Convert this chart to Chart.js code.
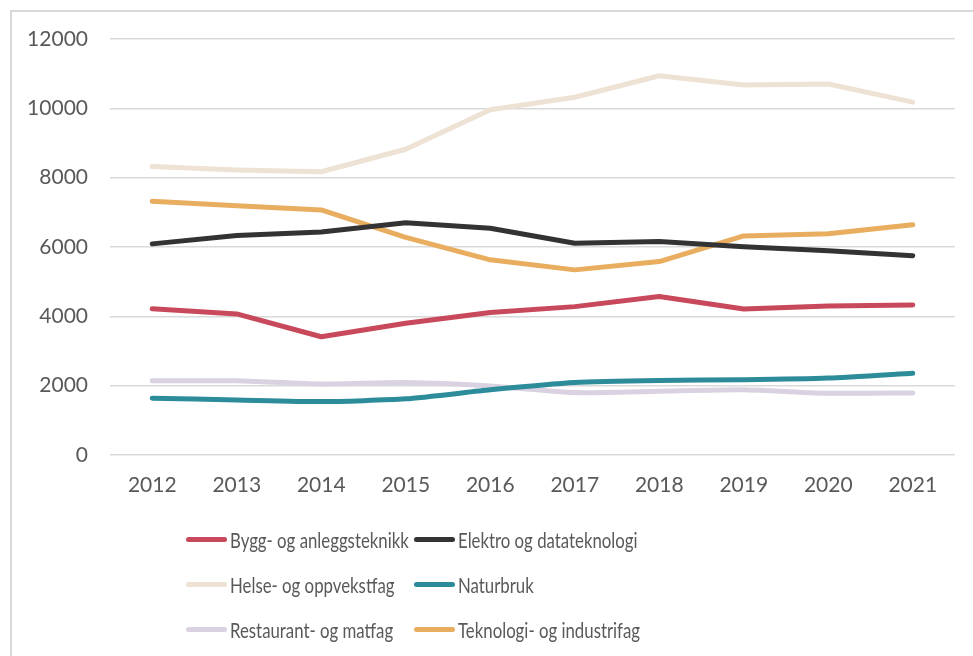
<!DOCTYPE html>
<html lang="no">
<head>
  <meta charset="UTF-8" />
  <title>Søkere per utdanningsprogram</title>
  <style>
    body {
      margin: 0;
      background: #fff;
      font-family: Lato, "Noto Sans", sans-serif;
    }

    .frame {
      position: absolute;
      left: 10px;
      top: 10px;
      width: 1000px;
      height: 700px;
      border-top: 2px solid #d9d9d9;
      border-left: 2px solid #d9d9d9;
      box-sizing: border-box;
    }

    .wrap {
      position: relative;
      width: 973px;
      height: 656px;
      overflow: hidden;
    }

    canvas {
      position: absolute;
      left: 0;
      top: 0;
    }

    #legend {
      position: absolute;
      left: 186px;
      top: 524px;
      display: grid;
      grid-template-columns: 228px 300px;
      row-gap: 15px;
    }

    .leg-item {
      display: flex;
      align-items: center;
      height: 30px;
      color: #595959;
      font-size: 21px;
      white-space: nowrap;
    }

    .leg-line {
      flex: none;
      width: 41px;
      height: 5px;
      border-radius: 3px;
      margin-right: 3px;
    }

    .leg-text {
      display: inline-block;
      transform: scaleX(0.8);
      transform-origin: left center;
    }
  </style>
</head>
<body>
  <div class="wrap">
    <div class="frame"></div>
    <canvas id="chart" width="973" height="656"></canvas>
    <div id="legend"></div>
  </div>

  <script src="https://cdn.jsdelivr.net/npm/chart.js"></script>
  <script>
    const years = ["2012", "2013", "2014", "2015", "2016", "2017", "2018", "2019", "2020", "2021"];

    const bygg       = [4220, 4070, 3410, 3800, 4110, 4280, 4570, 4210, 4300, 4330];
    const elektro    = [6090, 6330, 6430, 6700, 6540, 6110, 6160, 6010, 5890, 5750];
    const helse      = [8320, 8220, 8170, 8820, 9960, 10320, 10940, 10670, 10700, 10180];
    const naturbruk  = [1640, 1590, 1540, 1620, 1880, 2090, 2150, 2170, 2220, 2360];
    const restaurant = [2140, 2140, 2050, 2090, 1990, 1800, 1840, 1880, 1780, 1790];
    const teknologi  = [7320, 7190, 7070, 6280, 5630, 5340, 5580, 6320, 6380, 6640];

    const yTicks = [0, 2000, 4000, 6000, 8000, 10000, 12000];

    function serie(label, data, color, tension) {
      return {
        label,
        data,
        borderColor: color,
        backgroundColor: color,
        borderWidth: 5,
        borderCapStyle: 'round',
        borderJoinStyle: 'round',
        pointRadius: 0,
        pointHoverRadius: 0,
        tension: tension || 0,
        fill: false
      };
    }

    // rekkefølgen her styrer tegning (siste ligger øverst)
    const datasets = [
      serie('Bygg- og anleggsteknikk', bygg, '#C8495B'),
      serie('Elektro og datateknologi', elektro, '#333333'),
      serie('Helse- og oppvekstfag', helse, '#EDE2D3'),
      serie('Naturbruk', naturbruk, '#2C8C9A', 0.2),
      serie('Restaurant- og matfag', restaurant, '#DAD2E0', 0.2),
      serie('Teknologi- og industrifag', teknologi, '#E9AD5F')
    ];

    const ctx = document.getElementById('chart').getContext('2d');
    const chart = new Chart(ctx, {
      type: 'line',
      data: { labels: years, datasets },
      options: {
        responsive: false,
        animation: false,
        layout: {
          padding: { left: 0, top: 39, right: 18, bottom: 141 }
        },
        plugins: {
          legend: { display: false },
          tooltip: { enabled: false }
        },
        scales: {
          x: {
            offset: true,
            grid: { display: false, drawTicks: false },
            border: { display: false },
            ticks: {
              color: '#595959',
              font: { family: 'Lato', size: 21 },
              padding: 18,
              maxRotation: 0
            },
            afterFit: s => { s.height = 60; }
          },
          y: {
            min: 0,
            max: 12000,
            afterBuildTicks: s => { s.ticks = yTicks.map(v => ({ value: v })); },
            grid: { color: '#d9d9d9', lineWidth: 1.5, drawTicks: false },
            border: { display: false },
            ticks: {
              color: '#595959',
              font: { family: 'Lato', size: 21 },
              padding: 22,
              callback: v => String(v)
            },
            afterFit: s => { s.width = 110; }
          }
        }
      }
    });

    // egen forklaring i to kolonner
    const legend = document.getElementById('legend');
    chart.data.datasets.forEach(ds => {
      const item = document.createElement('div');
      item.className = 'leg-item';
      const line = document.createElement('span');
      line.className = 'leg-line';
      line.style.background = ds.borderColor;
      const txt = document.createElement('span');
      txt.className = 'leg-text';
      txt.textContent = ds.label;
      item.appendChild(line);
      item.appendChild(txt);
      legend.appendChild(item);
    });
  </script>
</body>
</html>
